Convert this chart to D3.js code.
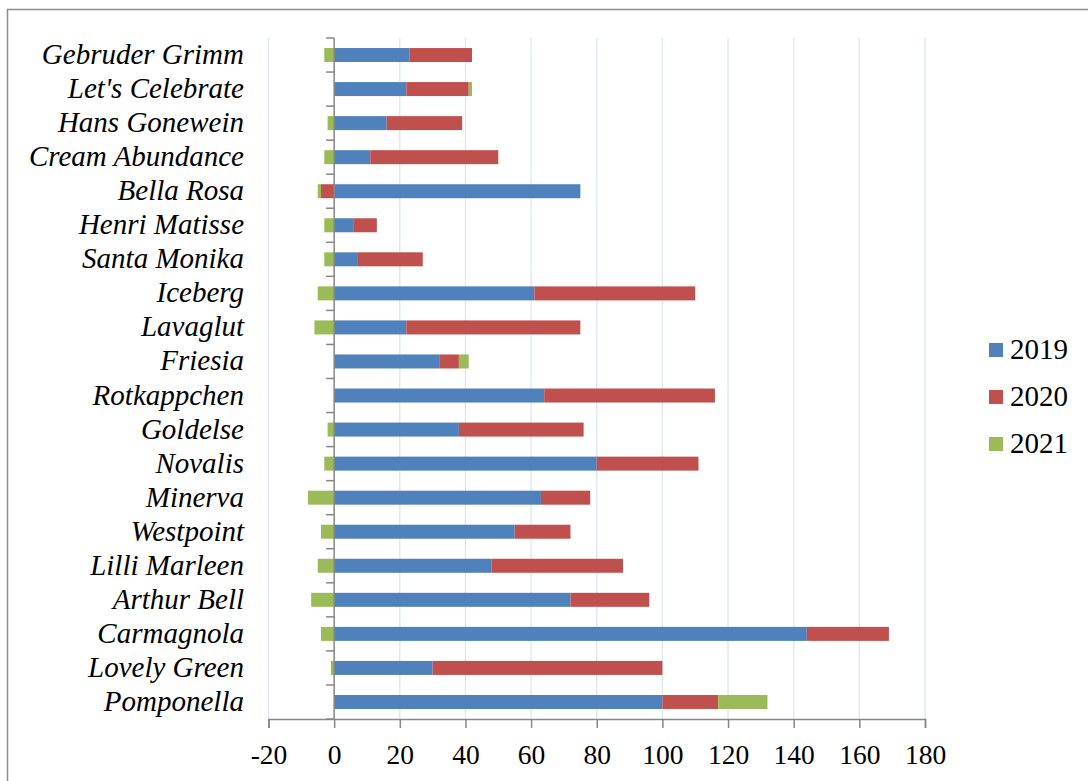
<!DOCTYPE html>
<html>
<head>
	<meta charset="utf-8">
	<style>
		body { margin: 0; background: #fff; }
	</style>
	<script src="https://d3js.org/d3.v7.min.js"></script>
</head>
<body>
	<svg id="chart" width="1088" height="781"></svg>
<script>
// rose varieties, top to bottom as shown
var varieties = ["Gebruder Grimm", "Let's Celebrate", "Hans Gonewein", "Cream Abundance", "Bella Rosa",
	"Henri Matisse", "Santa Monika", "Iceberg", "Lavaglut", "Friesia", "Rotkappchen", "Goldelse",
	"Novalis", "Minerva", "Westpoint", "Lilli Marleen", "Arthur Bell", "Carmagnola", "Lovely Green", "Pomponella"];

var years = ["2019", "2020", "2021"];

var values2019 = [23, 22, 16, 11, 75, 6, 7, 61, 22, 32, 64, 38, 80, 63, 55, 48, 72, 144, 30, 100];
var values2020 = [19, 19, 23, 39, -4, 7, 20, 49, 53, 6, 52, 38, 31, 15, 17, 40, 24, 25, 70, 17];
var values2021 = [-3, 1, -2, -3, -1, -3, -3, -5, -6, 3, 0, -2, -3, -8, -4, -5, -7, -4, -1, 15];

var xTicks = [-20, 0, 20, 40, 60, 80, 100, 120, 140, 160, 180];
var colors = ["#4F81BD", "#C0504D", "#9BBB59"];
var serif = "'Liberation Serif', 'Times New Roman', serif";

var svg = d3.select("#chart");

// outer frame
svg.append("rect")
	.attr("x", 7.5).attr("y", 9.5)
	.attr("width", 1100).attr("height", 800)
	.attr("fill", "none")
	.attr("stroke", "#8c8c8c")
	.attr("stroke-width", 1.5);

let plot = { left: 268.5, right: 925, top: 38, bottom: 719 };

let x = d3.scaleLinear().domain([-20, 180]).range([plot.left, plot.right]);
let band = d3.scaleBand().domain(varieties).range([plot.top, plot.bottom]);

// gridlines
svg.append("g").selectAll("line").data(xTicks.filter(d => d != 0))
	.enter().append("line")
	.attr("x1", d => x(d)).attr("x2", d => x(d))
	.attr("y1", plot.top).attr("y2", plot.bottom)
	.attr("stroke", "#dce6f2")
	.attr("stroke-width", 1.3);

// build stacks: positives go right from 0, negatives go left
let seriesVals = [values2019, values2020, values2021];
let segments = [];
varieties.forEach(function(name, i){
	let pos = 0, neg = 0;
	seriesVals.forEach(function(vals, s){
		let v = vals[i];
		if (v >= 0){
			segments.push({name: name, s: s, x0: pos, x1: pos + v});
			pos += v;
		} else {
			segments.push({name: name, s: s, x0: neg + v, x1: neg});
			neg += v;
		}
	});
});

svg.append("g").selectAll("rect").data(segments.filter(d => d.x1 != d.x0))
	.enter().append("rect")
	.attr("x", d => x(d.x0))
	.attr("width", d => x(d.x1) - x(d.x0))
	.attr("y", d => band(d.name) + band.bandwidth()/2 - 7)
	.attr("height", 14)
	.attr("fill", d => colors[d.s]);

// vertical category axis at 0
let axisColor = "#868686";
svg.append("line")
	.attr("x1", x(0)).attr("x2", x(0))
	.attr("y1", plot.top).attr("y2", plot.bottom)
	.attr("stroke", axisColor).attr("stroke-width", 1.5);

let catTicks = band.domain().map(d => band(d)).concat([plot.bottom]);
svg.append("g").selectAll("line").data(catTicks)
	.enter().append("line")
	.attr("x1", x(0) - 8).attr("x2", x(0))
	.attr("y1", d => d).attr("y2", d => d)
	.attr("stroke", axisColor).attr("stroke-width", 1.5);

// category labels
svg.append("g").selectAll("text").data(varieties)
	.enter().append("text")
	.attr("x", 244)
	.attr("y", d => band(d) + band.bandwidth()/2 + 9)
	.attr("text-anchor", "end")
	.style("font-family", serif)
	.style("font-size", "29px")
	.style("font-style", "italic")
	.text(d => d);

// bottom value axis
let xAxis = d3.axisBottom(x).tickValues(xTicks).tickSize(9).tickFormat(d => d);
let gx = svg.append("g")
	.attr("transform", "translate(0," + plot.bottom + ")")
	.call(xAxis);
gx.select(".domain").attr("stroke", axisColor).attr("stroke-width", 1.5);
gx.selectAll(".tick line").attr("stroke", axisColor).attr("stroke-width", 1.5);
gx.selectAll(".tick text")
	.attr("y", 25)
	.attr("fill", "#000")
	.style("font-size", "27.5px")
	.style("font-family", serif);

// legend
let legend = svg.append("g").selectAll("g").data(years)
	.enter().append("g")
	.attr("transform", (d, i) => "translate(989," + (343 + i * 47) + ")");
legend.append("rect")
	.attr("width", 14).attr("height", 14)
	.attr("fill", (d, i) => colors[i]);
legend.append("text")
	.attr("x", 21).attr("y", 16)
	.style("font-family", serif)
	.style("font-size", "29px")
	.text(d => d);
</script>
</body>
</html>
